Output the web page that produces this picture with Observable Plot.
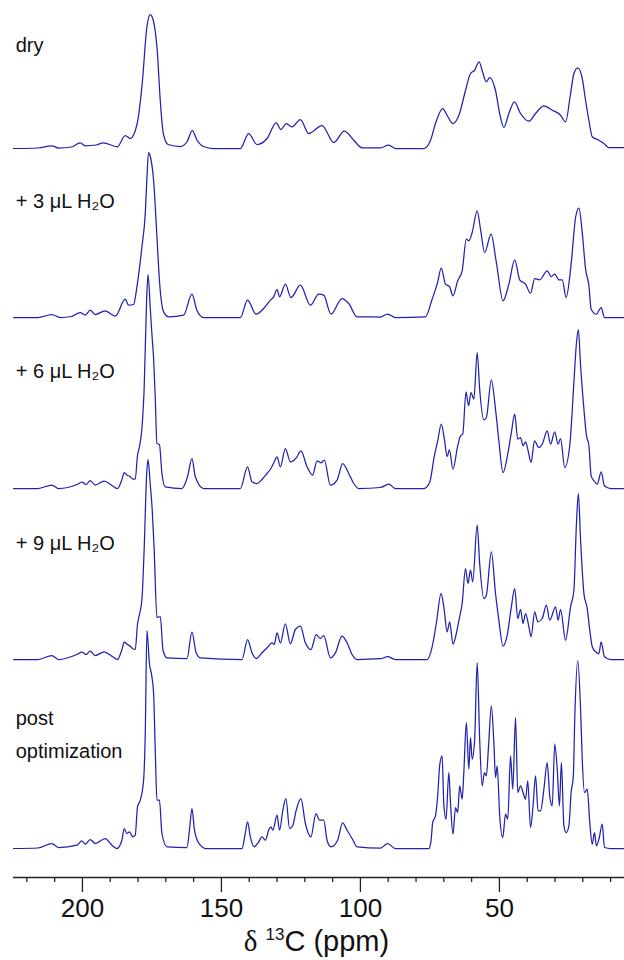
<!DOCTYPE html>
<html>
<head>
<meta charset="utf-8">
<script src="https://cdn.jsdelivr.net/npm/d3@7"></script>
<script src="https://cdn.jsdelivr.net/npm/@observablehq/plot@0.6"></script>
<style>
  html, body { margin: 0; padding: 0; background: #fff; }
  #chart svg { display: block; }
</style>
</head>
<body>
<div id="chart"></div>
<script>
// ---- data: [ppm, intensity] ----
const traceNames = ["dry", "+3 uL", "+6 uL", "+9 uL", "post optimization"];

const dry = [[224.8,0],[216,0.5],[211.0,2.7],[208.6,0.5],[204,1.5],[200.8,5.7],[199.0,2.7],[195,3.5],[192.5,5.7],[187.5,1.7],[184.6,13],[182.8,10],[180.3,25],[178.5,65],[176.8,122],[175.6,134],[174.5,128],[173.1,98],[172.0,48],[170.9,15],[169.2,4],[164.8,2],[162.3,7],[160.5,18],[158.7,8],[156.5,2],[152.8,0],[143.2,0],[140.2,15],[137.2,4],[133.6,10],[130.3,25.7],[128.6,19],[126.7,25],[124.6,21.7],[121.6,29],[118.6,15],[113.8,23],[109.6,6],[105.8,17.3],[102.4,8.3],[99.4,0.7],[92.8,0.7],[89.8,3.3],[87.4,0],[82,0],[77.2,0],[74.8,8],[73.0,25],[70.4,40],[68.8,33],[66.7,25],[64.6,33],[62.2,58],[60.4,75],[59.0,78],[57.3,86.7],[56.2,78],[54.7,66.7],[53.5,71],[51.4,58],[49.9,35],[48.4,21],[46.6,35],[44.6,46.7],[42.4,35],[39.4,27.3],[37.0,35],[34.0,42.7],[31.0,38.3],[28.0,33.3],[26.2,26.7],[24.4,55],[23.2,75],[21.8,80.7],[20.2,70],[19.0,48],[17.8,28],[16.6,11.7],[14.2,8.3],[12.4,5],[10.7,1],[5.0,1]];

const water3 = [[224.8,0],[216,0],[211.0,3],[208.0,0],[204,1],[200.8,5],[199.0,2.3],[197.2,7.3],[195.4,3],[191.8,6.7],[188.2,1.3],[184.6,18.3],[183.4,12.3],[181.6,13],[180.4,30.7],[178.6,70.7],[177.4,104],[176.8,140],[176.2,165],[175.5,160],[174.4,137],[173.2,80.7],[172.3,37],[170.8,5.6],[169.0,0.7],[163.6,2.3],[160.6,23.3],[158.8,7],[156.4,0],[143.2,0],[140.6,17.3],[137.5,3.3],[134.8,9],[132.4,17.3],[131.2,20.7],[130.0,28],[129.1,20.7],[127.0,33.3],[125.0,20],[121.6,32.3],[118.0,12.3],[115.0,23.3],[113.2,22.3],[110.6,3.3],[106.6,19],[104.2,14],[101.2,0.7],[92.8,0.5],[90.2,3.5],[87.4,0],[76.6,0.7],[74.2,18.3],[72.4,33.3],[70.9,49.3],[69.4,33.3],[68.0,31],[66.7,21.7],[65.0,36.7],[63.4,46.7],[61.9,78.3],[61.0,76.7],[59.8,85],[58.0,106.7],[56.8,88.3],[55.3,65],[53.0,83.3],[51.1,55],[48.7,16.7],[46.6,33.3],[44.5,57.7],[42.7,37.7],[40.6,33.3],[38.8,24.3],[37.3,39],[35.5,37.7],[32.8,46.7],[31.4,41],[30.1,43.3],[28.6,37.7],[27.4,37.7],[26.0,20],[24.2,53.3],[22.6,100],[21.4,109.3],[20.2,85],[19.0,48.3],[17.8,31.7],[17.0,8.3],[15.1,3.3],[13.4,10],[12.2,0],[5.0,0]];

const water6 = [[224.8,0],[216,0],[211.0,3.5],[208.6,0],[202,4],[200.2,6.5],[198.7,4],[197.2,8],[195.4,3.5],[192.2,7.5],[189.4,3],[187.4,0],[185.8,9],[185.0,16],[183.8,13],[183.1,12.5],[181.9,9.5],[181.0,9.5],[180.2,33],[179.5,42],[178.6,60],[177.8,100],[176.9,190],[176.4,214],[175.6,180],[174.9,150],[174.4,130],[173.8,90],[173.2,45],[172.3,44],[171.4,15],[170.2,1.7],[164.2,0],[162.2,11.7],[160.6,30],[159.4,11.7],[156.4,0],[143.2,0],[140.6,21.7],[139.0,6.7],[137.2,5],[135.4,9],[133.6,15],[132.2,20],[131.0,26.7],[130.0,31.7],[128.8,21.7],[127.0,40],[125.2,26.7],[122.8,31.7],[121.4,37.7],[119.2,21.7],[117.2,13.3],[115.6,27.7],[114.2,25.7],[113.0,28.3],[110.8,3.3],[108.4,8.3],[106.4,25],[104.2,15],[102.4,5],[100.6,0],[92.8,1],[89.8,4.3],[87.4,0],[77.2,0],[75.1,6],[73.4,32.7],[72.2,47.7],[70.9,64.3],[69.8,49.3],[68.8,32],[68.0,38.7],[66.7,19.3],[65.0,42.7],[64.0,52.7],[63.2,54.3],[62.0,96.7],[61.1,82.7],[60.2,96],[59.2,89.3],[58.0,136],[57.1,99.3],[55.6,68.7],[54.7,71],[52.9,108.7],[51.4,79.3],[50.2,47.7],[48.7,16],[46.9,36],[45.7,56],[44.5,74.3],[43.4,49.3],[42.4,51],[41.5,42.7],[40.6,46.7],[39.8,39.3],[38.6,26],[37.4,47.7],[35.8,41],[34.6,44.3],[32.8,57.7],[31.6,44.3],[30.1,56.7],[28.9,44.3],[28.0,50],[26.5,21],[24.7,42.7],[23.2,106],[22.3,145],[21.6,159],[20.8,122.7],[19.6,79.3],[18.7,53.3],[17.8,42.7],[17.0,12.7],[16.0,7.7],[14.8,4.3],[13.4,16.7],[12.2,2.7],[10.0,0],[5.0,0]];

const water9 = [[224.8,0],[216,0],[211.0,4],[208.6,0],[202.0,5],[200.2,7.3],[198.7,5],[197.2,8.3],[195.4,4],[192.2,7.7],[189.4,3.3],[187.4,0],[185.8,10],[185.0,17.3],[183.8,15],[182.8,13.3],[181.9,10.7],[181.0,10],[180.2,35],[179.5,45],[178.6,60],[177.8,110],[176.9,185],[176.4,200],[175.6,175],[174.9,150],[174.2,110],[173.2,42],[172.0,43],[171.0,9],[169.6,1.7],[162.4,1],[160.6,27.3],[159.1,6.7],[157.6,1.7],[142.6,0],[140.6,20],[139.0,6.7],[137.5,1],[135.4,6.7],[133.6,11.7],[131.8,16.7],[131.0,15],[130.0,26.7],[128.8,16.7],[127.0,35.7],[125.2,15.7],[123.4,30],[121.6,33.3],[119.8,16.7],[117.8,10],[115.9,25],[114.4,21],[113.2,24],[110.8,1.7],[109.0,6.7],[106.6,23.3],[104.8,16.7],[103.0,5],[101.2,0],[92.8,0.8],[90.2,2.8],[87.4,0],[76.0,0],[74.2,12.7],[72.7,36],[71.0,66],[70.0,52.7],[68.8,27.7],[67.9,37.7],[66.7,15.3],[65.5,26],[64.3,42.7],[63.4,56],[62.2,91],[61.3,76],[60.4,89.3],[59.6,77.7],[58.0,134.3],[57.1,96],[55.6,61],[54.7,64.3],[52.9,107.7],[51.4,66],[50.2,39.3],[48.7,13.3],[47.2,24.3],[45.7,52.7],[44.5,71],[43.4,41],[42.4,50],[41.5,36],[40.6,46],[39.4,32.7],[38.6,22.7],[37.3,47.7],[36.2,37.7],[34.6,41],[33.1,54.3],[31.9,39.3],[29.8,52.7],[28.9,39.3],[28.0,50],[26.2,19.3],[24.4,52.7],[23.2,69.3],[22.3,135],[21.6,166],[20.8,119.3],[19.6,66],[18.4,51],[17.5,29.3],[16.6,12.7],[15.4,7.7],[14.2,6],[13.4,17.7],[12.2,2.7],[10.0,0],[5.0,0]];

const postOpt = [[224.8,0],[216,0.5],[211.0,5],[208.6,1],[202.0,3.3],[200.2,7.7],[199.0,4.3],[197.2,9],[195.4,5],[191.8,10],[189.4,3.3],[187.6,0],[185.8,8.3],[185.0,20],[184.0,15],[183.1,16.7],[181.9,11.7],[181.0,13.3],[180.2,41.7],[179.2,48.3],[178.0,68.3],[177.4,115],[176.8,218],[175.9,185],[175.0,171.7],[174.4,155],[173.8,98],[173.2,48.3],[172.3,48.3],[171.4,15],[169.6,1.7],[162.4,1],[161.5,18.3],[160.6,40],[159.7,18.3],[158.8,9],[157.6,3.3],[155.8,0],[142.6,0],[141.4,15.7],[140.6,26.7],[139.6,11.7],[138.2,1.7],[136.6,6.7],[135.4,11.7],[134.2,8.3],[133.0,18.3],[132.2,21.7],[131.5,18.3],[130.0,33.3],[129.1,18.3],[127.9,38.3],[126.8,50],[125.5,20],[124.3,23.3],[123.1,38.3],[121.4,50],[119.8,25],[117.8,11.7],[116.0,35],[114.7,28.3],[113.2,28.3],[112.0,8.3],[110.6,1.7],[108.2,8.3],[106.4,25.7],[104.8,18.3],[103.0,10],[101.2,1.7],[92.8,0.5],[90.2,4.8],[87.4,0],[75.4,0],[74.6,7.7],[74.0,26],[73.0,32.7],[72.2,52.7],[71.5,82.7],[70.6,92.7],[70.0,44.3],[69.2,29.3],[68.2,76],[67.6,46],[66.7,14.3],[65.8,41],[65.0,36],[64.3,62.7],[63.4,49.3],[62.8,76],[61.9,126],[61.0,79.3],[60.4,111],[59.8,89.3],[58.9,109.3],[58.0,186],[57.1,109.3],[56.2,62.7],[55.4,76],[54.7,72.7],[53.9,102.7],[52.9,142.7],[52.0,106],[51.4,71],[50.8,82.7],[49.9,32.7],[48.8,11],[47.8,34.3],[47.0,29.3],[46.0,92.7],[45.2,59.3],[44.2,131],[43.4,56],[42.4,62.7],[41.5,56],[40.6,49.3],[39.8,67.7],[38.8,21],[37.9,42.7],[37.0,72.7],[36.1,37.7],[35.2,37.7],[34.0,59.3],[32.8,86],[31.9,52.7],[31.0,42.7],[30.1,104.3],[29.2,79.3],[28.4,42.7],[27.7,86],[26.8,22.7],[26.0,16],[25.0,22.7],[24.2,56],[23.4,72.7],[22.9,129.3],[21.8,188],[20.8,139.3],[20.2,89.3],[19.4,56],[18.4,59.3],[17.5,26],[16.6,4.3],[15.8,16],[15.1,2.7],[14.2,9.3],[13.0,24.3],[12.2,1],[10.0,0],[5.0,0]];

const majorTicks = [200, 150, 100, 50];
const minorTicks = [220, 210, 190, 180, 170, 160, 140, 130, 120, 110, 90, 80, 70, 60, 40, 30, 20, 10];
const labelTexts = ["dry", "+ 3 μL H₂O", "+ 6 μL H₂O", "+ 9 μL H₂O", "post", "optimization"];

// ---- layout (stack offsets and label placement) ----
const traces = [dry, water3, water6, water9, postOpt];
const offsets = [729, 560, 389, 218, 29];
const labelTrace = [0, 1, 2, 3, 4, 4];
const labelLift = [103.4, 115.7, 117.4, 116.4, 130.4, 97.4];

const rows = traces.flatMap((t, i) => t.map(([ppm, v]) => ({trace: traceNames[i], ppm, y: offsets[i] + v})));
const labelRows = labelTexts.map((text, i) => ({text, ppm: 224.0, y: offsets[labelTrace[i]] + labelLift[i]}));

const plot = Plot.plot({
  width: 624,
  height: 960,
  marginLeft: 13,
  marginRight: 0,
  marginTop: 0,
  marginBottom: 83,
  style: {fontFamily: "'Liberation Sans', Arial, sans-serif", background: "#fff", color: "#000"},
  x: {domain: [224.8, 5.0], axis: null, label: null},
  y: {domain: [0, 877], axis: null, label: null},
  marks: [
    Plot.line(rows, {x: "ppm", y: "y", z: "trace", stroke: "#2121b0", strokeWidth: 1.25, curve: "monotone-x"}),
    Plot.text(labelRows, {x: "ppm", y: "y", text: "text", textAnchor: "start", lineAnchor: "middle", fontSize: 20, fill: "#111"}),
    Plot.ruleY([0], {stroke: "#222", strokeWidth: 1.5}),
    Plot.axisX(minorTicks, {anchor: "bottom", label: null, tickSize: 5, tickFormat: () => "", stroke: "#222", strokeWidth: 1.3}),
    Plot.axisX(majorTicks, {anchor: "bottom", label: null, tickSize: 15, tickPadding: 6, fontSize: 26, stroke: "#222", strokeWidth: 1.3, fill: "#111"})
  ]
});

document.getElementById("chart").appendChild(plot);

// axis title with superscript
const xs = plot.scale("x");
const cx = (xs.apply(224.8) + xs.apply(5.0)) / 2 - 2;
const svg = d3.select(plot);
const title = svg.append("text")
  .attr("x", cx).attr("y", 951)
  .attr("text-anchor", "middle")
  .attr("fill", "#111")
  .attr("font-family", "'Liberation Sans', Arial, sans-serif")
  .attr("font-size", 29);
title.append("tspan").attr("font-family", "'Liberation Serif', 'Times New Roman', serif").text("δ");
title.append("tspan").text(" ");
title.append("tspan").attr("font-size", 17).attr("dy", -11).text("13");
title.append("tspan").attr("dy", 11).text("C (ppm)");
</script>
</body>
</html>
